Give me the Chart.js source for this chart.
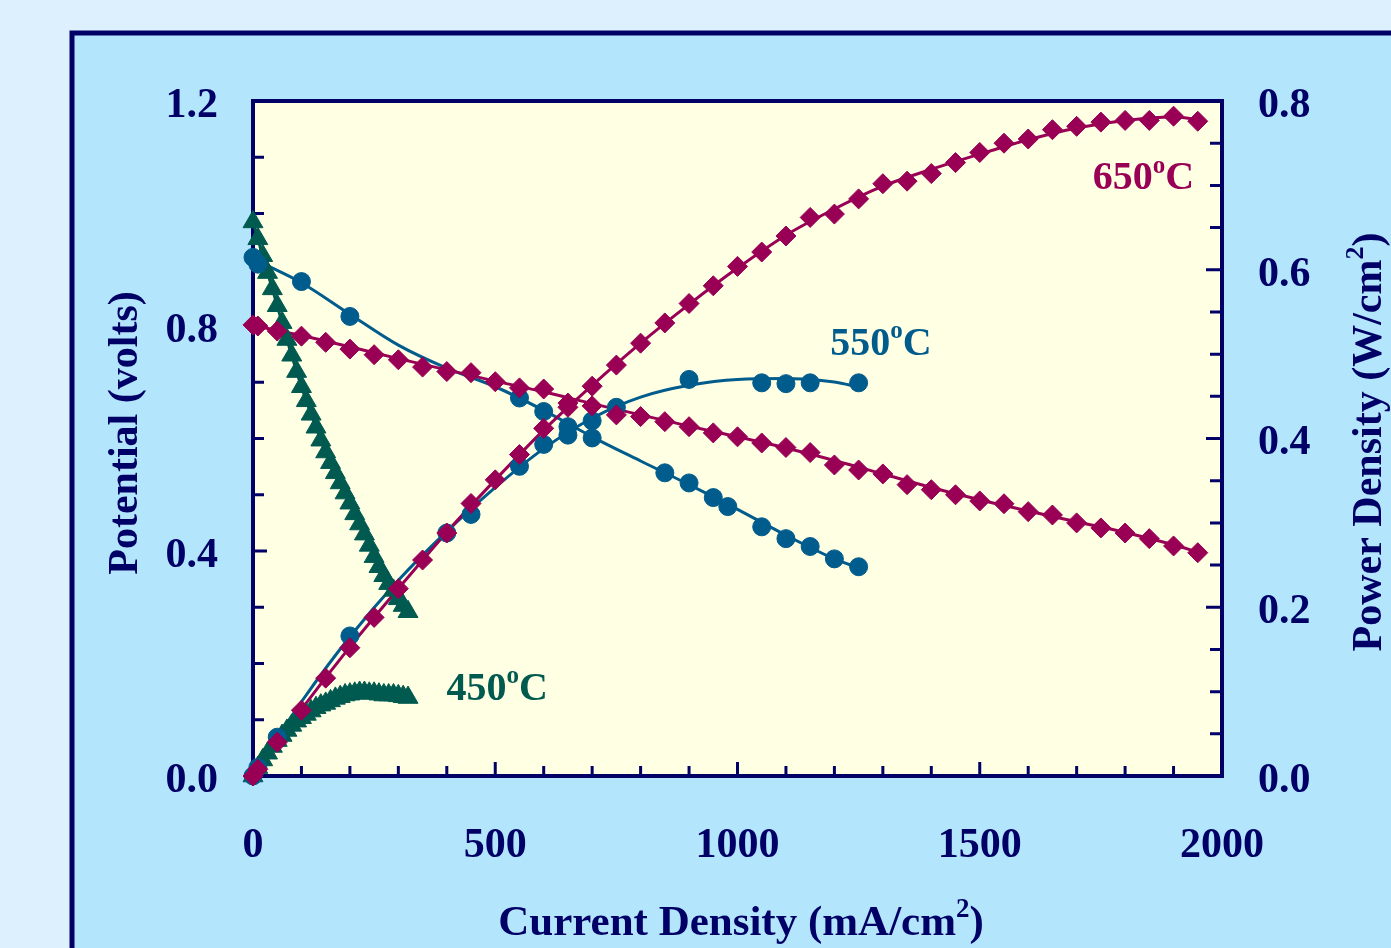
<!DOCTYPE html>
<html>
<head>
<meta charset="utf-8">
<title>Fuel cell performance</title>
<script src="https://cdn.jsdelivr.net/npm/chart.js@4/dist/chart.umd.min.js"></script>
<style>
html, body { margin: 0; padding: 0; background: #dcf0fd; }
#wrap { width: 1391px; height: 948px; }
</style>
</head>
<body>
<div id="wrap"><canvas id="cellChart" width="1391" height="948"></canvas></div>
<script>
/* 650°C : diamonds */
const cur650 = [0,10,50,100,150,200,250,300,350,400,450,500,550,600,650,700,750,800,850,900,950,1000,1050,1100,1150,1200,1250,1300,1350,1400,1450,1500,1550,1600,1650,1700,1750,1800,1850,1900,1950]
const volt650 = [0.802,0.800,0.791,0.782,0.771,0.759,0.749,0.740,0.727,0.719,0.717,0.701,0.690,0.688,0.663,0.658,0.642,0.639,0.630,0.621,0.610,0.603,0.592,0.584,0.575,0.553,0.544,0.537,0.518,0.509,0.500,0.489,0.484,0.470,0.464,0.450,0.441,0.432,0.422,0.409,0.397]
const pow650 = [0,0.008,0.040,0.078,0.116,0.152,0.188,0.222,0.256,0.288,0.323,0.351,0.381,0.412,0.437,0.462,0.487,0.513,0.537,0.560,0.581,0.604,0.621,0.640,0.662,0.666,0.684,0.702,0.705,0.714,0.727,0.739,0.750,0.755,0.766,0.770,0.775,0.777,0.777,0.782,0.776]
// fitted curves
const fitCur650 = [0,100,200,300,400,500,600,700,800,900,1000,1100,1200,1300,1400,1500,1600,1700,1800,1900,1950]
const fitVolt650 = [0.801,0.783,0.763,0.742,0.722,0.702,0.683,0.662,0.642,0.622,0.603,0.583,0.561,0.537,0.513,0.491,0.471,0.452,0.433,0.411,0.398]
const fitPow650 = [0,0.079,0.153,0.222,0.289,0.351,0.410,0.463,0.513,0.559,0.602,0.641,0.672,0.699,0.719,0.737,0.754,0.768,0.777,0.781,0.778]

/* 550°C : circles */
const curV550 = [0,10,100,200,550,600,650,700,850,900,950,980,1050,1100,1150,1200,1250]
const volt550 = [0.922,0.910,0.879,0.817,0.672,0.648,0.621,0.601,0.539,0.521,0.495,0.479,0.443,0.422,0.408,0.386,0.372]
const curP550 = [0,10,50,200,400,450,550,600,650,700,750,900,1050,1100,1150,1250]
const pow550 = [0,0.010,0.046,0.166,0.288,0.310,0.367,0.393,0.404,0.421,0.437,0.470,0.466,0.465,0.466,0.466]
const fitCur550 = [0,50,100,200,300,400,500,600,700,800,900,1000,1100,1200,1250]
const fitVolt550 = [0.918,0.899,0.877,0.821,0.766,0.725,0.692,0.650,0.603,0.560,0.518,0.474,0.428,0.386,0.370]
const fitPow550 = [0,0.045,0.088,0.165,0.232,0.290,0.342,0.388,0.424,0.449,0.463,0.470,0.471,0.467,0.461]

/* 450°C : triangles */
const cur450 = [0,10,20,30,40,50,60,70,80,90,100,110,120,130,140,150,160,170,180,190,200,210,220,230,240,250,260,270,280,290,300,310,320]
const volt450 = [0.985,0.955,0.925,0.895,0.866,0.836,0.806,0.776,0.748,0.719,0.692,0.667,0.643,0.620,0.597,0.576,0.557,0.539,0.521,0.503,0.485,0.466,0.448,0.430,0.410,0.390,0.372,0.356,0.342,0.330,0.315,0.303,0.292]
const pow450 = [0,0.010,0.019,0.027,0.035,0.042,0.048,0.054,0.060,0.065,0.069,0.073,0.077,0.081,0.084,0.086,0.089,0.092,0.094,0.096,0.097,0.098,0.099,0.099,0.098,0.098,0.097,0.096,0.096,0.096,0.095,0.094,0.093]

/* axes */
const xTickLabels = [0,500,1000,1500,2000]
const voltTickLabels = [0.0,0.4,0.8,1.2]
const powTickLabels = [0.0,0.2,0.4,0.6,0.8]

/* 색상, 글꼴 */
const navy = '#000066'
const c650 = '#990055'
const c550 = '#005c8c'
const c450 = '#005a50'
const serif = "'Liberation Serif', 'Times New Roman', serif"

function pts(xs, ys){
	return xs.map((x,i) => ({x: x, y: ys[i]}))
}

function fitLine(xs, ys, color, axis){
	return {
		data: pts(xs, ys)
		,yAxisID: axis
		,borderColor: color
		,borderWidth: 3
		,pointRadius: 0
		,cubicInterpolationMode: 'monotone'
		,fill: false
		,clip: false
		,order: 10
	}
}

function marks(xs, ys, color, axis, style, r, order){
	return {
		data: pts(xs, ys)
		,yAxisID: axis
		,showLine: false
		,pointStyle: style
		,pointRadius: r
		,pointBackgroundColor: color
		,pointBorderColor: color
		,pointBorderWidth: 1
		,clip: false
		,order: order
	}
}

/* 글자 + 위첨자 */
function drawParts(ctx, parts, x, y, size, color){
	const big = 'bold ' + size + 'px ' + serif
	const small = 'bold ' + Math.round(size*0.62) + 'px ' + serif
	let total = 0
	for(const p of parts){
		ctx.font = p[1] ? small : big
		total += ctx.measureText(p[0]).width
	}
	let cx = x - total/2
	ctx.fillStyle = color
	ctx.textAlign = 'left'
	ctx.textBaseline = 'alphabetic'
	for(const p of parts){
		ctx.font = p[1] ? small : big
		ctx.fillText(p[0], cx, p[1] ? y - size*0.42 : y)
		cx += ctx.measureText(p[0]).width
	}
}

const decor = {
	id: 'decor'
	,beforeDraw(chart){
		const ctx = chart.ctx
		const a = chart.chartArea
		ctx.save()
		ctx.fillStyle = '#dcf0fd'
		ctx.fillRect(0, 0, chart.width, chart.height)
		ctx.fillStyle = '#b3e6fd'
		ctx.fillRect(72, 33, chart.width, chart.height)
		ctx.strokeStyle = navy
		ctx.lineWidth = 5
		ctx.beginPath()
		ctx.moveTo(72, chart.height + 10)
		ctx.lineTo(72, 33)
		ctx.lineTo(chart.width + 10, 33)
		ctx.stroke()
		ctx.fillStyle = '#ffffe4'
		ctx.fillRect(a.left, a.top, a.right - a.left, a.bottom - a.top)
		ctx.restore()
	}
	,beforeDatasetsDraw(chart){
		const ctx = chart.ctx
		const a = chart.chartArea
		const sx = chart.scales.x, sv = chart.scales.yV, sp = chart.scales.yP
		ctx.save()
		ctx.strokeStyle = navy
		ctx.lineWidth = 3
		ctx.beginPath()
		// left ticks every 0.1
		for(let k=0;k<=12;k++){
			const y = sv.getPixelForValue(k*0.1)
			ctx.moveTo(a.left, y); ctx.lineTo(a.left + (k%4==0 ? 14 : 11), y)
		}
		// right ticks every 0.05
		for(let k=0;k<=16;k++){
			const y = sp.getPixelForValue(k*0.05)
			ctx.moveTo(a.right, y); ctx.lineTo(a.right - (k%4==0 ? 16 : 12), y)
		}
		// bottom ticks every 100
		for(let k=0;k<=20;k++){
			const x = sx.getPixelForValue(k*100)
			ctx.moveTo(x, a.bottom); ctx.lineTo(x, a.bottom - (k%5==0 ? 14 : 10))
		}
		ctx.stroke()
		ctx.lineWidth = 4
		ctx.strokeRect(a.left, a.top, a.right - a.left, a.bottom - a.top)
		ctx.restore()
	}
	,afterDraw(chart){
		const ctx = chart.ctx
		const sx = chart.scales.x, sv = chart.scales.yV
		ctx.save()
		// axis titles
		drawParts(ctx, [['Current Density (mA/cm',0],['2',1],[')',0]], 741, 935, 43, navy)
		ctx.save()
		ctx.translate(137, 433)
		ctx.rotate(-Math.PI/2)
		drawParts(ctx, [['Potential (volts)',0]], 0, 0, 42, navy)
		ctx.restore()
		ctx.save()
		ctx.translate(1381, 442)
		ctx.rotate(-Math.PI/2)
		drawParts(ctx, [['Power Density (W/cm',0],['2',1],[')',0]], 0, 0, 42, navy)
		ctx.restore()
		// series labels
		const tags = [
			['650', 1838, 1.043, c650]
			,['550', 1296, 0.749, c550]
			,['450', 504, 0.135, c450]
		]
		for(const t of tags){
			drawParts(ctx, [[t[0],0],['o',1],['C',0]], sx.getPixelForValue(t[1]), sv.getPixelForValue(t[2]), 40, t[3])
		}
		ctx.restore()
	}
}

const tickFont = { family: serif, weight: 'bold', size: 42 }

new Chart(document.getElementById('cellChart'), {
	type: 'line'
	,data: {
		datasets: [
			fitLine(fitCur650, fitVolt650, c650, 'yV')
			,fitLine(fitCur650, fitPow650, c650, 'yP')
			,fitLine(fitCur550, fitVolt550, c550, 'yV')
			,fitLine(fitCur550, fitPow550, c550, 'yP')
			,fitLine(cur450, volt450, c450, 'yV')
			,fitLine(cur450, pow450, c450, 'yP')
			,marks(cur450, volt450, c450, 'yV', 'triangle', 11.5, 4)
			,marks(cur450, pow450, c450, 'yP', 'triangle', 11.5, 4)
			,marks(curV550, volt550, c550, 'yV', 'circle', 9, 3)
			,marks(curP550, pow550, c550, 'yP', 'circle', 9, 3)
			,marks(cur650, volt650, c650, 'yV', 'rectRot', 10, 2)
			,marks(cur650, pow650, c650, 'yP', 'rectRot', 10, 2)
		]
	}
	,options: {
		responsive: false
		,animation: false
		,events: []
		,layout: { padding: { top: 101, left: 0, right: 0, bottom: 0 } }
		,plugins: { legend: { display: false }, tooltip: { enabled: false } }
		,scales: {
			x: {
				type: 'linear'
				,min: 0
				,max: 2000
				,grid: { display: false, drawTicks: false }
				,border: { display: false }
				,afterFit: s => { s.height = 172 }
				,afterBuildTicks: s => { s.ticks = xTickLabels.map(v => ({value: v})) }
				,ticks: { color: navy, font: tickFont, padding: 45, maxRotation: 0, autoSkip: false, callback: v => String(v) }
			}
			,yV: {
				type: 'linear'
				,position: 'left'
				,min: 0
				,max: 1.2
				,grid: { display: false, drawTicks: false }
				,border: { display: false }
				,afterFit: s => { s.width = 253 }
				,afterBuildTicks: s => { s.ticks = voltTickLabels.map(v => ({value: v})) }
				,ticks: { color: navy, font: tickFont, padding: 35, labelOffset: 5, callback: v => Number(v).toFixed(1) }
			}
			,yP: {
				type: 'linear'
				,position: 'right'
				,min: 0
				,max: 0.8
				,grid: { display: false, drawTicks: false }
				,border: { display: false }
				,afterFit: s => { s.width = 169 }
				,afterBuildTicks: s => { s.ticks = powTickLabels.map(v => ({value: v})) }
				,ticks: { color: navy, font: tickFont, padding: 36, labelOffset: 5, callback: v => Number(v).toFixed(1) }
			}
		}
	}
	,plugins: [decor]
})
</script>
</body>
</html>
